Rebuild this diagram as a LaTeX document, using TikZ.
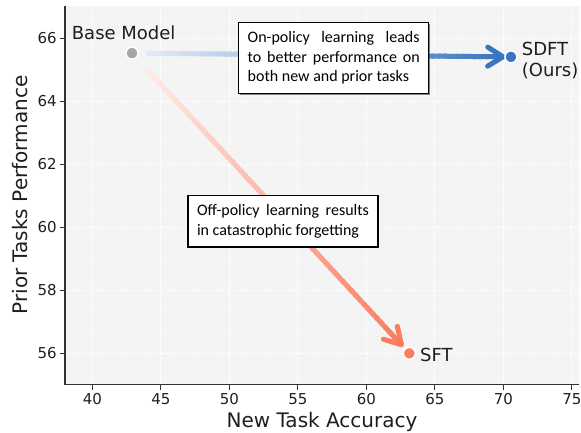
\documentclass[tikz,border=0pt]{standalone}
\usepackage{fontspec}
\setmainfont{DejaVu Sans}
\newfontfamily\boxfont{Carlito}
\usetikzlibrary{calc,shadows}
\definecolor{axbg}{RGB}{244,244,244}
\definecolor{sdftblue}{RGB}{58,118,192}
\definecolor{sftorange}{RGB}{250,125,95}
\definecolor{basegray}{RGB}{165,165,165}
\definecolor{txt}{RGB}{30,30,30}
\definecolor{spinecol}{RGB}{51,51,51}
\pgfdeclarelayer{bglayer}
\pgfdeclarelayer{arrowlayer}
\pgfsetlayers{bglayer,arrowlayer,main}
\newcommand\boxsetup{\boxfont\fontsize{16}{19.5}\selectfont\tolerance=10000\relax\hyphenpenalty=10000\relax\exhyphenpenalty=10000\relax}
\begin{document}
\begin{tikzpicture}[x=1pt,y=1pt,
  ticklabel/.style={font=\fontsize{15}{18}\selectfont, text=txt, inner sep=0pt},
  axlabel/.style={font=\fontsize{20}{24}\selectfont, text=txt, inner sep=0pt},
  ptlabel/.style={font=\fontsize{18}{21.6}\selectfont, text=txt, inner sep=0pt},
  marker/.style={circle, minimum size=12pt, inner sep=0pt, draw=white, line width=1.5pt},
  gridline/.style={white, line width=0.9pt, dash pattern=on 4pt off 2pt},
  spineline/.style={spinecol, line width=1.2pt},
  tickline/.style={spinecol, line width=1pt},
  annot/.style={draw=black, fill=white, line width=1.4pt, text width=172pt, align=justify,
    inner xsep=9pt, inner ysep=9pt, text=black, font=\boxsetup,
    drop shadow={shadow xshift=1.3pt, shadow yshift=-1.3pt, fill=black!80, opacity=0.6}},
  shaft/.style={line width=5pt, line cap=butt},
  head/.style={line width=5pt, line cap=round, line join=round},
]
\useasboundingbox (0,0) rectangle (581,432);

\begin{pgfonlayer}{bglayer}
\fill[axbg] (65,47.3) rectangle (579,426);
\end{pgfonlayer}

\begin{scope}[x=13.7pt,y=31.5pt,shift={(-455.7pt,-1685.3pt)}]
\begin{pgfonlayer}{bglayer}
  \foreach \v in {40,45,...,75} \draw[gridline] (\v,55) -- (\v,67.02);
  \foreach \v in {56,58,...,66} \draw[gridline] (38,\v) -- (75.52,\v);
  \draw[spineline] (38,67.02) -- (38,55) -- (75.52,55);
\end{pgfonlayer}
  \foreach \v in {40,45,...,75} {
    \draw[tickline] (\v,55) -- ++(0,-5pt);
    \node[ticklabel, anchor=north] (xt\v) at ([yshift=-8.6pt]\v,55) {\v};
  }
  \foreach \v in {56,58,...,66} {
    \draw[tickline] (38,\v) -- ++(-5pt,0);
    \node[ticklabel, anchor=east] (yt\v) at ([xshift=-8pt]38,\v) {\v};
  }
  \node[marker, fill=basegray] (base) at (42.9,65.53) {};
  \node[marker, fill=sdftblue] (sdft) at (70.56,65.41) {};
  \node[marker, fill=sftorange] (sft) at (63.14,56) {};
\end{scope}

% arrows with colour gradients
\coordinate (bs) at ($(base.center)!14pt!(sdft.center)$);
\coordinate (be) at ($(sdft.center)!8pt!(base.center)$);
\coordinate (os) at ($(base.center)!21pt!(sft.center)$);
\coordinate (oe) at ($(sft.center)!11.5pt!(base.center)$);
\begin{pgfonlayer}{arrowlayer}
\foreach \i in {0,...,59} {
  \pgfmathsetmacro\ta{\i/60}
  \pgfmathsetmacro\tb{min((\i+1.5)/60,1)}
  \pgfmathsetmacro\cb{15+85*\i/59}
  \draw[shaft, sdftblue!\cb!white] ($(bs)!\ta!(be)$) -- ($(bs)!\tb!(be)$);
  \draw[shaft, sftorange!\cb!white] ($(os)!\ta!(oe)$) -- ($(os)!\tb!(oe)$);
}
\draw[head, sdftblue] ($(be)!18pt!32:(bs)$) -- (be) -- ($(be)!18pt!-32:(bs)$);
\draw[head, sftorange] ($(oe)!19pt!30:(os)$) -- (oe) -- ($(oe)!19pt!-30:(os)$);
\end{pgfonlayer}

% point labels
\node[ptlabel, anchor=base west] (baselbl) at (71.7,392) {Base Model};
\node[ptlabel, anchor=north west, align=left] (sdftlbl) at (521.7,390.3) {SDFT\\(Ours)};
\node[ptlabel, anchor=base west] (sftlbl) at (420,71) {SFT};

% axis labels
\node[axlabel, rotate=90] (ylab) at (20,237) {Prior Tasks Performance};
\node[axlabel, anchor=base] (xlab) at (322,5) {New Task Accuracy};

% annotation boxes
\node[annot, anchor=north west] (onbox) at (238,410) {On-policy learning leads\linebreak to better performance on\linebreak both new and prior tasks};
\node[annot, anchor=north west] (offbox) at (187.3,237) {Off-policy learning results\linebreak in catastrophic forgetting};
\end{tikzpicture}
\end{document}
